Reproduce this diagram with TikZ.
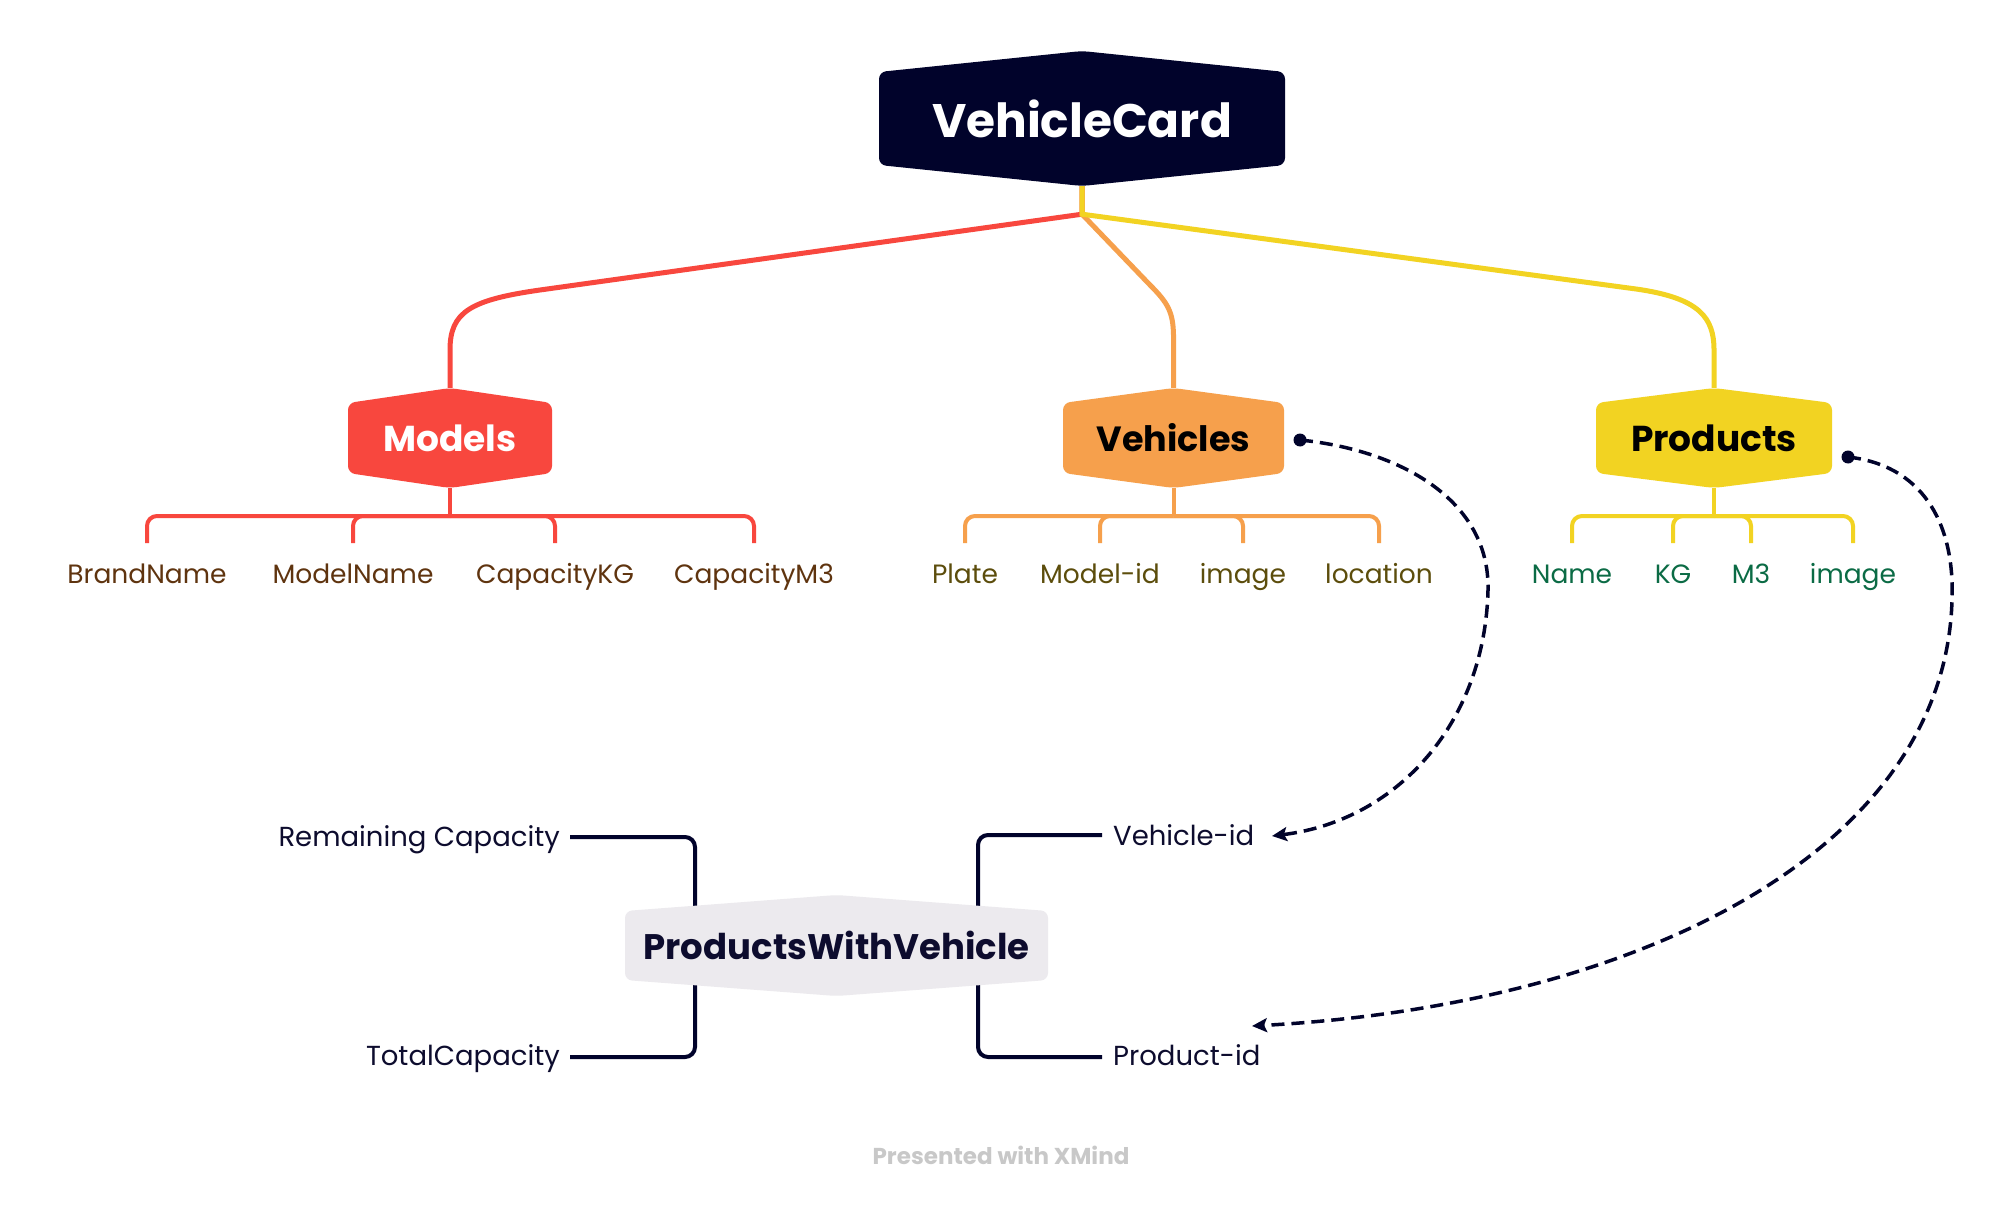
\documentclass[tikz,border=0pt]{standalone}
\usepackage{fontspec}
\setmainfont{Poppins}
\usetikzlibrary{arrows.meta,calc}
\pgfdeclarelayer{bg}
\pgfdeclarelayer{shapes}
\pgfsetlayers{bg,shapes,main}
\definecolor{navy}{HTML}{01032B}
\definecolor{cred}{HTML}{F8473E}
\definecolor{corange}{HTML}{F6A04C}
\definecolor{cyellow}{HTML}{F2D322}
\definecolor{pwvfill}{HTML}{ECEAEE}
\definecolor{darktext}{HTML}{0D0C2E}
\definecolor{cbrown}{HTML}{5F340F}
\definecolor{colive}{HTML}{5C4D0C}
\definecolor{cgreen}{HTML}{0B6B45}
\definecolor{cgray}{HTML}{C8C8C8}
\newcommand{\hexnode}[9]{%
  \node[#8, minimum width={2*#4}, minimum height={2*(#5+#6)}, inner sep=0pt] (#1) at (#2,#3) {#9};
  \begin{pgfonlayer}{shapes}
  \fill[#7, rounded corners=7pt] ({#2-#4},{#3-#5}) -- (#2,{#3-#5-#6}) -- ({#2+#4},{#3-#5}) -- ({#2+#4},{#3+#5}) -- (#2,{#3+#5+#6}) -- ({#2-#4},{#3+#5}) -- cycle;
  \end{pgfonlayer}}
\tikzset{
  branch/.style={line width=5pt},
  sub/.style={line width=4pt, rounded corners=10pt},
  leaf/.style={inner sep=0pt, font=\fontsize{26.5}{31}\selectfont},
  botlab/.style={inner sep=0pt, text=darktext, font=\fontsize{27.5}{32}\selectfont},
  dashconn/.style={line width=3.5pt, navy, dash pattern=on 13pt off 7pt, -{Stealth[length=15pt,width=14pt,inset=3pt]}},
}
\begin{document}
\begin{tikzpicture}[x=1pt, y={(0pt,-1pt)}]
\begin{pgfonlayer}{bg}
\fill[white] (0,0) rectangle (2004,1206);
\end{pgfonlayer}
\useasboundingbox (0,0) rectangle (2004,1206);

% main nodes
\hexnode{vc}{1082}{118.5}{203}{46.5}{21}{navy}{text=white, font=\fontsize{47}{56}\selectfont\bfseries}{VehicleCard}
\hexnode{models}{450}{438}{102}{35}{15}{cred}{text=white, font=\fontsize{36}{44}\selectfont\bfseries}{Models}
\hexnode{veh}{1173.5}{438}{110.5}{35}{15}{corange}{text=black, font=\fontsize{35}{43}\selectfont\bfseries}{Vehicles}
\hexnode{prod}{1714}{438}{118}{35}{15}{cyellow}{text=black, font=\fontsize{36}{44}\selectfont\bfseries}{Products}
\hexnode{pwv}{836.5}{945.5}{211.5}{34.5}{16}{pwvfill}{text=darktext, font=\fontsize{35.5}{44}\selectfont\bfseries}{ProductsWithVehicle}

% leaf labels
\node[leaf, text=cbrown, anchor=base] (bn) at (147,583) {BrandName};
\node[leaf, text=cbrown, anchor=base] (mn) at (353,583) {ModelName};
\node[leaf, text=cbrown, anchor=base] (ckg) at (555,583) {CapacityKG};
\node[leaf, text=cbrown, anchor=base] (cm3) at (754,583) {CapacityM3};
\node[leaf, text=colive, anchor=base] (plate) at (965,583) {Plate};
\node[leaf, text=colive, anchor=base] (modid) at (1100,583) {Model-id};
\node[leaf, text=colive, anchor=base] (vimg) at (1243,583) {image};
\node[leaf, text=colive, anchor=base] (loc) at (1379,583) {location};
\node[leaf, text=cgreen, anchor=base] (pname) at (1572,583) {Name};
\node[leaf, text=cgreen, anchor=base] (pkg) at (1673,583) {KG};
\node[leaf, text=cgreen, anchor=base] (pm3) at (1751,583) {M3};
\node[leaf, text=cgreen, anchor=base] (pimg) at (1853,583) {image};

% bottom labels
\node[botlab, anchor=base east] (rc) at (560,846) {Remaining Capacity};
\node[botlab, anchor=base east] (tc) at (560,1065) {TotalCapacity};
\node[botlab, anchor=base west] (vid) at (1113,845) {Vehicle-id};
\node[botlab, anchor=base west] (pid) at (1113,1065) {Product-id};

\node[inner sep=0pt, text=cgray, font=\fontsize{23}{27}\selectfont\bfseries] (xm) at (1001,1155) {Presented with XMind};

\coordinate (dotv) at (1300,440);
\coordinate (dotp) at (1848,457);
\coordinate (tipv) at (1272,836);
\coordinate (tipp) at (1252,1026);

\begin{pgfonlayer}{bg}
% top branches
\draw[branch, cred] (vc.south) -- ++(0,28) -- (540,290) .. controls (470,300) and (450,312) .. (450,350) -- (models.north);
\draw[branch, corange] (vc.south) -- ++(0,28) -- (1150,285) .. controls (1168,303) and (1173,312) .. (1173.5,335) -- (veh.north);
\draw[branch, cyellow] (vc.south) -- ++(0,28) -- (1636,289) .. controls (1700,298) and (1714,318) .. (1714,350) -- (prod.north);

% children brackets
\draw[line width=4pt, cred] (models.south) -- (models |- 0,516);
\foreach \c in {bn,mn,ckg,cm3} \draw[sub, cred] (models |- 0,516) -- (\c |- 0,516) -- (\c |- 0,543);
\draw[line width=4pt, corange] (veh.south) -- (veh |- 0,516);
\foreach \c in {plate,modid,vimg,loc} \draw[sub, corange] (veh |- 0,516) -- (\c |- 0,516) -- (\c |- 0,543);
\draw[line width=4pt, cyellow] (prod.south) -- (prod |- 0,516);
\foreach \c in {pname,pkg,pm3,pimg} \draw[sub, cyellow] (prod |- 0,516) -- (\c |- 0,516) -- (\c |- 0,543);

% bottom brackets
\draw[sub, navy] ($(rc.base east)+(10,-9)$) -- (695,837) -- (pwv.center -| 695,0);
\draw[sub, navy] ($(tc.base east)+(10,-8)$) -- (695,1057) -- (pwv.center -| 695,0);
\draw[sub, navy] ($(vid.base west)+(-11,-10)$) -- (978,835) -- (pwv.center -| 978,0);
\draw[sub, navy] ($(pid.base west)+(-11,-8)$) -- (978,1057) -- (pwv.center -| 978,0);
\end{pgfonlayer}

% dashed relations
\fill[navy] (dotv) circle (6.5);
\fill[navy] (dotp) circle (6.5);
\draw[dashconn] (dotv) .. controls (1400,450) and (1490,500) .. (1488,590) .. controls (1485,720) and (1400,820) .. (tipv);
\draw[dashconn] (dotp) .. controls (1920,465) and (1955,520) .. (1952,600) .. controls (1945,850) and (1640,1005) .. (tipp);
\end{tikzpicture}
\end{document}
